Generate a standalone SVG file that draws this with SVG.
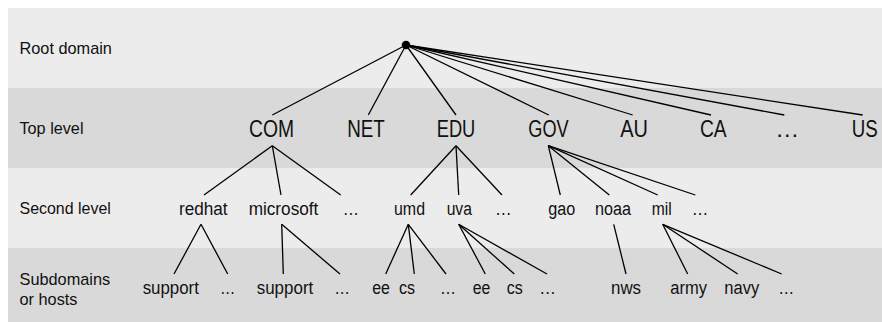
<svg xmlns="http://www.w3.org/2000/svg" width="882" height="322" viewBox="0 0 882 322">
<style>
.bl{fill:#ececec}.bd{fill:#d9d9d9}
text{font-family:"Liberation Sans",Arial,sans-serif;fill:#111}
.lab{font-size:17px}
.top{font-size:23px;text-anchor:middle}
.n{font-size:18px;text-anchor:middle}
.c line{stroke:#000;stroke-width:1.3}
</style>
<rect class="bl" x="8" y="8" width="874" height="80"/>
<rect class="bd" x="8" y="88" width="874" height="80"/>
<rect class="bl" x="8" y="168" width="874" height="80"/>
<rect class="bd" x="8" y="248" width="874" height="74"/>
<g id="labels">
<text class="lab" x="19.5" y="54" textLength="92.4" lengthAdjust="spacingAndGlyphs">Root domain</text>
<text class="lab" x="19.5" y="134" textLength="64" lengthAdjust="spacingAndGlyphs">Top level</text>
<text class="lab" x="19.5" y="214" textLength="91.3" lengthAdjust="spacingAndGlyphs">Second level</text>
<text class="lab" x="19.5" y="285" textLength="90.7" lengthAdjust="spacingAndGlyphs">Subdomains</text>
<text class="lab" x="19.5" y="305" textLength="58" lengthAdjust="spacingAndGlyphs">or hosts</text>
</g>
<g class="c" id="connectors">
<line x1="406" y1="45" x2="272.3" y2="115"/>
<line x1="406" y1="45" x2="368.3" y2="115"/>
<line x1="406" y1="45" x2="456" y2="115"/>
<line x1="406" y1="45" x2="548.7" y2="115"/>
<line x1="406" y1="45" x2="632.7" y2="115"/>
<line x1="406" y1="45" x2="711" y2="115"/>
<line x1="406" y1="45" x2="784.3" y2="115"/>
<line x1="406" y1="45" x2="862.7" y2="115"/>
<line x1="272.3" y1="145.7" x2="204" y2="195"/>
<line x1="272.3" y1="145.7" x2="281" y2="195"/>
<line x1="272.3" y1="145.7" x2="340.7" y2="195"/>
<line x1="456" y1="145.7" x2="410.7" y2="195"/>
<line x1="456" y1="145.7" x2="458.7" y2="195"/>
<line x1="456" y1="145.7" x2="502" y2="195"/>
<line x1="548.3" y1="145.7" x2="560.3" y2="195"/>
<line x1="548.3" y1="145.7" x2="609.3" y2="195"/>
<line x1="548.3" y1="145.7" x2="657.7" y2="195"/>
<line x1="548.3" y1="145.7" x2="695.3" y2="195"/>
<line x1="201" y1="224.3" x2="174" y2="274"/>
<line x1="201" y1="224.3" x2="227.7" y2="274"/>
<line x1="281.7" y1="224.3" x2="283.3" y2="274"/>
<line x1="281.7" y1="224.3" x2="340" y2="274"/>
<line x1="408.3" y1="224.3" x2="385.7" y2="274"/>
<line x1="408.3" y1="224.3" x2="414.3" y2="274"/>
<line x1="408.3" y1="224.3" x2="446" y2="274"/>
<line x1="458.7" y1="224.3" x2="485.3" y2="274"/>
<line x1="458.7" y1="224.3" x2="514.3" y2="274"/>
<line x1="458.7" y1="224.3" x2="547" y2="274"/>
<line x1="613.7" y1="224.3" x2="626" y2="274"/>
<line x1="662.7" y1="224.3" x2="687.7" y2="274"/>
<line x1="662.7" y1="224.3" x2="737.7" y2="274"/>
<line x1="662.7" y1="224.3" x2="781.7" y2="274"/>
</g>
<g id="root"><circle cx="406" cy="45" r="4.3" fill="#000"/></g>
<g id="com"><text class="top" x="271.5" y="137" textLength="45" lengthAdjust="spacingAndGlyphs">COM</text></g>
<g id="net"><text class="top" x="366" y="137" textLength="37.7" lengthAdjust="spacingAndGlyphs">NET</text></g>
<g id="edu"><text class="top" x="456" y="137" textLength="38.6" lengthAdjust="spacingAndGlyphs">EDU</text></g>
<g id="gov"><text class="top" x="548.5" y="137" textLength="40.4" lengthAdjust="spacingAndGlyphs">GOV</text></g>
<g id="au"><text class="top" x="634" y="137" textLength="27.7" lengthAdjust="spacingAndGlyphs">AU</text></g>
<g id="ca"><text class="top" x="713.3" y="137" textLength="26.7" lengthAdjust="spacingAndGlyphs">CA</text></g>
<g id="tld-more"><text class="top" x="787.3" y="137" textLength="24" lengthAdjust="spacingAndGlyphs">…</text></g>
<g id="us"><text class="top" x="864.7" y="137" textLength="26" lengthAdjust="spacingAndGlyphs">US</text></g>
<g id="redhat"><text class="n" x="203.3" y="215" textLength="48.7" lengthAdjust="spacingAndGlyphs">redhat</text></g>
<g id="microsoft"><text class="n" x="283.5" y="215" textLength="69.7" lengthAdjust="spacingAndGlyphs">microsoft</text></g>
<g id="com-more"><text class="n" x="350.8" y="215" textLength="16.3" lengthAdjust="spacingAndGlyphs">…</text></g>
<g id="umd"><text class="n" x="409.5" y="215" textLength="31" lengthAdjust="spacingAndGlyphs">umd</text></g>
<g id="uva"><text class="n" x="459.3" y="215" textLength="25.3" lengthAdjust="spacingAndGlyphs">uva</text></g>
<g id="edu-more"><text class="n" x="503.3" y="215" textLength="16.7" lengthAdjust="spacingAndGlyphs">…</text></g>
<g id="gao"><text class="n" x="561.8" y="215" textLength="27" lengthAdjust="spacingAndGlyphs">gao</text></g>
<g id="noaa"><text class="n" x="613" y="215" textLength="36" lengthAdjust="spacingAndGlyphs">noaa</text></g>
<g id="mil"><text class="n" x="661.7" y="215" textLength="20" lengthAdjust="spacingAndGlyphs">mil</text></g>
<g id="gov-more"><text class="n" x="700" y="215" textLength="16.6" lengthAdjust="spacingAndGlyphs">…</text></g>
<g id="redhat-support"><text class="n" x="170.8" y="294" textLength="56.3" lengthAdjust="spacingAndGlyphs">support</text></g>
<g id="redhat-more"><text class="n" x="227.7" y="294" textLength="15.3" lengthAdjust="spacingAndGlyphs">…</text></g>
<g id="ms-support"><text class="n" x="285" y="294" textLength="56.6" lengthAdjust="spacingAndGlyphs">support</text></g>
<g id="ms-more"><text class="n" x="342" y="294" textLength="15.7" lengthAdjust="spacingAndGlyphs">…</text></g>
<g id="umd-ee"><text class="n" x="381" y="294" textLength="17.7" lengthAdjust="spacingAndGlyphs">ee</text></g>
<g id="umd-cs"><text class="n" x="407" y="294" textLength="16" lengthAdjust="spacingAndGlyphs">cs</text></g>
<g id="umd-more"><text class="n" x="448" y="294" textLength="16" lengthAdjust="spacingAndGlyphs">…</text></g>
<g id="uva-ee"><text class="n" x="481.5" y="294" textLength="17.6" lengthAdjust="spacingAndGlyphs">ee</text></g>
<g id="uva-cs"><text class="n" x="514.7" y="294" textLength="16" lengthAdjust="spacingAndGlyphs">cs</text></g>
<g id="uva-more"><text class="n" x="547.7" y="294" textLength="16.7" lengthAdjust="spacingAndGlyphs">…</text></g>
<g id="nws"><text class="n" x="626" y="294" textLength="30" lengthAdjust="spacingAndGlyphs">nws</text></g>
<g id="army"><text class="n" x="688.7" y="294" textLength="36.7" lengthAdjust="spacingAndGlyphs">army</text></g>
<g id="navy"><text class="n" x="741.8" y="294" textLength="35" lengthAdjust="spacingAndGlyphs">navy</text></g>
<g id="mil-more"><text class="n" x="786.3" y="294" textLength="16" lengthAdjust="spacingAndGlyphs">…</text></g>
</svg>
